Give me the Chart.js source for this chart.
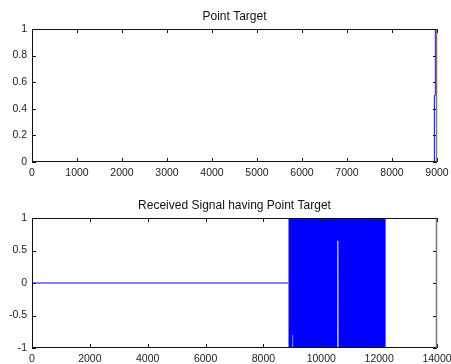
<!DOCTYPE html>
<html>
<head>
<meta charset="utf-8">
<script src="https://cdn.jsdelivr.net/npm/chart.js@4/dist/chart.umd.min.js"></script>
<style>
  html, body { margin: 0; padding: 0; background: #fff; }
  #top-wrap { position: absolute; left: 0; top: 0; width: 451px; height: 180px; }
  #bottom-wrap { position: absolute; left: 0; top: 180px; width: 451px; height: 184px; }
</style>
</head>
<body>
<div id="top-wrap"><canvas id="target-chart" width="451" height="180"></canvas></div>
<div id="bottom-wrap"><canvas id="received-chart" width="451" height="184"></canvas></div>
<script>
// Point target (top plot)
const targetX = [0, 8940, 8941, 8962, 8963, 9000];
const targetY = [0, 0, 0.5, 0.5, 1, 1];

// Received signal (bottom plot): flat part before the echo
const recvX = [0, 8860];
const recvY = [0, 0];

// Echo band: the chirp fills -1..1, lower edge (white notches)
const chirpX = [8860, 9005, 9007, 9025, 9027, 10550, 10556, 10590, 10596, 12100, 12102, 12122, 12124, 12230];
const chirpY = [-1, -1, -0.8, -0.8, -1, -1, 0.65, 0.65, -1, -1, -0.88, -0.88, -1, -1];

// Pale strokes near the top where the chirp frequency passes through zero
const hazeX = [10450, 10452, 10480, 10482, 10530, 10610, 10612, 10660, 10662];
const hazeY = [1, 0.86, 0.86, 1, 0.65, 0.65, 1, 0.88, 1];

// Tick labels
const topXTicks = [0, 1000, 2000, 3000, 4000, 5000, 6000, 7000, 8000, 9000];
const topYTicks = [0, 0.2, 0.4, 0.6, 0.8, 1];
const botXTicks = [0, 2000, 4000, 6000, 8000, 10000, 12000, 14000];
const botYTicks = [-1, -0.5, 0, 0.5, 1];

const BLUE = '#0000ff';
const FAMILY = 'Arial, "Liberation Sans", sans-serif';
const FONT = { family: FAMILY, size: 10.5 };

function pts(xs, ys) {
    return xs.map((x, i) => ({ x: x, y: ys[i] }));
}

// MATLAB-style box with inward ticks on all four sides, title centred over the axes
const boxTicks = {
    id: 'boxTicks',
    afterDraw(chart, args, opts) {
        const { ctx, chartArea: a, scales } = chart;
        const len = 4;
        ctx.save();
        ctx.lineWidth = 1;
        ctx.strokeStyle = '#111';
        ctx.beginPath();
        scales.x.ticks.forEach(t => {
            const px = Math.round(scales.x.getPixelForValue(t.value)) + 0.5;
            ctx.moveTo(px, a.bottom); ctx.lineTo(px, a.bottom - len);
            ctx.moveTo(px, a.top); ctx.lineTo(px, a.top + len);
        });
        scales.y.ticks.forEach(t => {
            const py = Math.round(scales.y.getPixelForValue(t.value)) + 0.5;
            ctx.moveTo(a.left, py); ctx.lineTo(a.left + len, py);
            ctx.moveTo(a.right, py); ctx.lineTo(a.right - len, py);
        });
        ctx.stroke();
        const l = Math.round(a.left) + 0.5, r = Math.round(a.right) - 0.5;
        const t = Math.round(a.top) + 0.5, b = Math.round(a.bottom) - 0.5;
        ctx.beginPath();
        ctx.moveTo(r, t); ctx.lineTo(l, t); ctx.lineTo(l, b); ctx.lineTo(r, b);
        ctx.stroke();
        ctx.strokeStyle = '#777';
        ctx.lineWidth = 1.5;
        ctx.beginPath();
        ctx.moveTo(r, t); ctx.lineTo(r, b);
        ctx.stroke();

        ctx.fillStyle = '#111';
        ctx.font = '12px ' + FAMILY;
        ctx.textAlign = 'center';
        ctx.textBaseline = 'alphabetic';
        ctx.fillText(opts.text, (a.left + a.right) / 2, opts.baseline);
        ctx.restore();
    }
};

function makeScales(xTicks, yTicks, xMin, xMax, yMin, yMax, xHeight) {
    const fmt = v => String(+Number(v).toFixed(2));
    return {
        x: {
            type: 'linear', min: xMin, max: xMax,
            afterBuildTicks: s => { s.ticks = xTicks.map(v => ({ value: v })); },
            afterFit: s => { s.height = xHeight; s.paddingLeft = 0; s.paddingRight = 0; },
            grid: { display: false, drawTicks: false },
            border: { display: false },
            ticks: { color: '#222', font: FONT, padding: 5, maxRotation: 0, autoSkip: false, callback: fmt }
        },
        y: {
            min: yMin, max: yMax,
            afterBuildTicks: s => { s.ticks = yTicks.map(v => ({ value: v })); },
            afterFit: s => { s.width = 32; s.paddingTop = 0; s.paddingBottom = 0; },
            grid: { display: false, drawTicks: false },
            border: { display: false },
            ticks: { color: '#222', font: FONT, padding: 5, autoSkip: false, callback: fmt }
        }
    };
}

new Chart(document.getElementById('target-chart'), {
    type: 'line',
    data: {
        datasets: [{
            data: pts(targetX, targetY),
            borderColor: BLUE, borderWidth: 1, pointRadius: 0, fill: false, tension: 0
        }]
    },
    options: {
        responsive: false, animation: false,
        layout: { padding: { left: 0, right: 14, top: 29, bottom: 0 } },
        plugins: {
            legend: { display: false }, tooltip: { enabled: false }, title: { display: false },
            boxTicks: { text: 'Point Target', baseline: 20 }
        },
        scales: makeScales(topXTicks, topYTicks, 0, 9000, 0, 1, 18)
    },
    plugins: [boxTicks]
});

new Chart(document.getElementById('received-chart'), {
    type: 'line',
    data: {
        datasets: [
            {
                data: pts(recvX, recvY),
                borderColor: BLUE, borderWidth: 1, pointRadius: 0, fill: false, tension: 0
            },
            {
                data: pts(chirpX, chirpY),
                borderColor: BLUE, borderWidth: 0, pointRadius: 0, tension: 0,
                backgroundColor: BLUE, fill: { value: 1 }
            },
            {
                data: pts(hazeX, hazeY),
                borderColor: 'rgba(255,255,255,0)', borderWidth: 0, pointRadius: 0, tension: 0,
                backgroundColor: 'rgba(235,235,245,0.6)', fill: { value: 1 }
            }
        ]
    },
    options: {
        responsive: false, animation: false,
        layout: { padding: { left: 0, right: 14, top: 38, bottom: 0 } },
        plugins: {
            legend: { display: false }, tooltip: { enabled: false }, title: { display: false },
            boxTicks: { text: 'Received Signal having Point Target', baseline: 29 }
        },
        scales: makeScales(botXTicks, botYTicks, 0, 14000, -1, 1, 16)
    },
    plugins: [boxTicks]
});
</script>
</body>
</html>
